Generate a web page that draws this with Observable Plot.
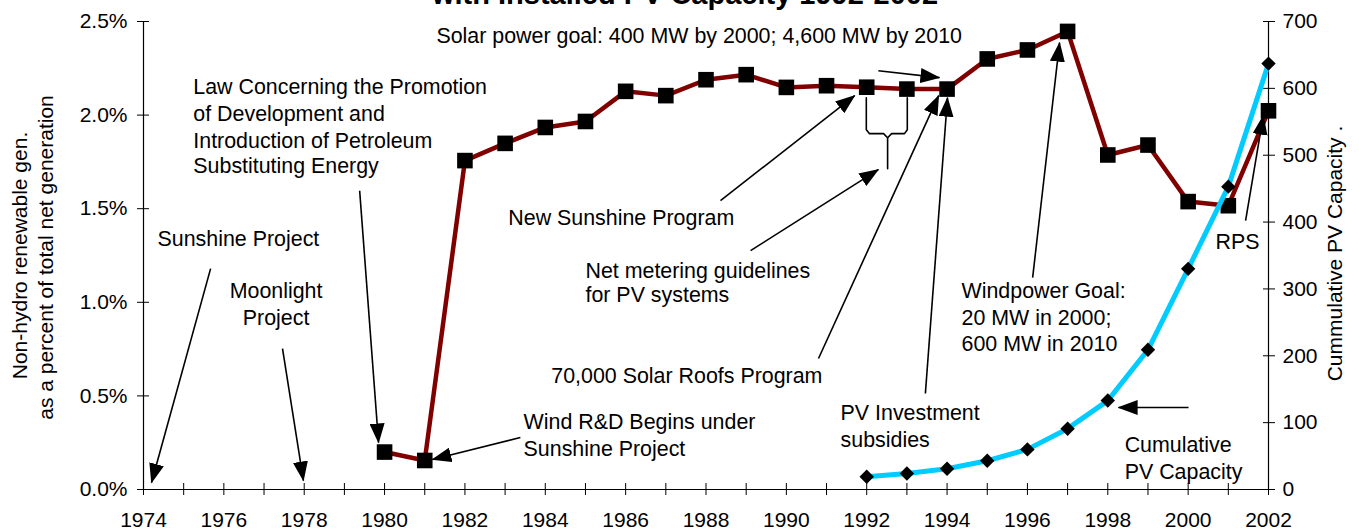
<!DOCTYPE html>
<html>
<head>
<meta charset="utf-8">
<script src="https://cdn.jsdelivr.net/npm/d3@7"></script>
<script src="https://cdn.jsdelivr.net/npm/@observablehq/plot@0.6"></script>
<style>
  html, body { margin: 0; padding: 0; background: #fff; }
  #chart { width: 1359px; height: 532px; overflow: hidden; }
</style>
</head>
<body>
<div id="chart"></div>
<script>
// ---- data ----
const renewYears = [1980,1981,1982,1983,1984,1985,1986,1987,1988,1989,1990,1991,1992,1993,1994,1995,1996,1997,1998,1999,2000,2001,2002];
const renewPct   = [0.20,0.155,1.757,1.849,1.934,1.966,2.127,2.104,2.189,2.216,2.148,2.157,2.149,2.139,2.139,2.30,2.348,2.447,1.787,1.84,1.538,1.516,2.023];
const pvYears = [1992,1993,1994,1995,1996,1997,1998,1999,2000,2001,2002];
const pvMW    = [19,24,31,43,60,91,133,209,330,453,637];

const xTicks = [1974,1975,1976,1977,1978,1979,1980,1981,1982,1983,1984,1985,1986,1987,1988,1989,1990,1991,1992,1993,1994,1995,1996,1997,1998,1999,2000,2001,2002];
const leftTicks = [0,0.5,1.0,1.5,2.0,2.5];
const rightTicks = [0,100,200,300,400,500,600,700];
const pvMax = 700, pctMax = 2.5;

const titleText = "with Installed PV Capacity 1992-2002";
const leftTitle1 = "Non-hydro renewable gen.";
const leftTitle2 = "as a percent of total net generation";
const rightTitle = "Cummulative PV Capacity .";

// annotation text lines (year, percent)
const noteText = ["Solar power goal: 400 MW by 2000; 4,600 MW by 2010",
  "Law Concerning the Promotion","of Development and","Introduction of Petroleum","Substituting Energy",
  "Sunshine Project","Wind R&D Begins under","Sunshine Project","New Sunshine Program",
  "Net metering guidelines","for PV systems","70,000 Solar Roofs Program","PV Investment","subsidies",
  "Windpower Goal:","20 MW in 2000;","600 MW in 2010","RPS","Cumulative","PV Capacity"];
const noteX = [1981.29,1975.24,1975.24,1975.24,1975.24,1974.35,1983.46,1983.46,1983.08,1985.0,1985.0,1984.15,1991.35,1991.35,1994.36,1994.36,1994.36,2000.68,1998.42,1998.42];
const noteY = [2.424,2.152,2.007,1.863,1.725,1.335,0.358,0.214,1.452,1.169,1.036,0.603,0.406,0.262,1.062,0.918,0.774,1.319,0.235,0.091];
const centerText = ["Moonlight","Project"];
const centerX = [1977.3,1977.3];
const centerY = [1.062,0.913];

// arrows: from (x1,y1) to tip (x2,y2)
const arrX1 = [1992.29,1979.38,1975.67,1977.46,1983.38,1988.36,1989.11,1990.80,1993.46,1996.13,2001.43,2000.01];
const arrY1 = [2.237,1.596,1.180,0.753,0.278,1.543,1.276,0.700,0.513,1.132,1.436,0.438];
const arrX2 = [1993.81,1979.85,1974.20,1977.98,1981.19,1991.70,1992.29,1993.79,1994.01,1996.80,2001.87,1998.27];
const arrY2 = [2.200,0.251,0.037,0.048,0.160,2.104,1.709,2.104,2.093,2.387,1.997,0.438];

// brace under 1992-1993
const braceX = [1991.99,1991.99,1992.07,1992.42,1992.52,1992.52, 1993.01,1993.01,1992.94,1992.62,1992.52];
const braceY = [2.093,1.922,1.901,1.901,1.879,1.714, 2.093,1.922,1.901,1.901,1.879];
const braceZ = ["a","a","a","a","a","a","b","b","b","b","b"];

// ---- tables ----
const renew = renewYears.map((year,i)=>({year, pct: renewPct[i]}));
const pv = pvYears.map((year,i)=>({year, mw: pvMW[i]}));
const notes = noteText.map((t,i)=>({t, x: noteX[i], y: noteY[i]}));
const cnotes = centerText.map((t,i)=>({t, x: centerX[i], y: centerY[i]}));
const arrows = arrX1.map((x1,i)=>({x1, y1: arrY1[i], x2: arrX2[i], y2: arrY2[i]}));
const brace = braceX.map((x,i)=>({x, y: braceY[i], z: braceZ[i]}));
const toPct = mw => mw * pctMax / pvMax;

const annFont = 21.4;
const tickFont = 21;
const svg = Plot.plot({
  width: 1359, height: 532,
  marginLeft: 143, marginRight: 91, marginTop: 21, marginBottom: 43,
  style: {fontFamily: "'Liberation Sans', Arial, sans-serif", fontSize: "21px", background: "#fff", color: "#000", overflow: "visible"},
  x: {domain: [1974, 2002]},
  y: {domain: [0, 2.5]},
  marks: [
    // axes
    Plot.axisY({anchor: "left", ticks: leftTicks, tickFormat: d => d.toFixed(1) + "%", tickSize: 6, tickPadding: 10, label: null, fontSize: tickFont}),
    Plot.axisY({anchor: "left", ticks: leftTicks, tickFormat: () => "", tickSize: -6, label: null}),
    Plot.axisY({anchor: "right", ticks: rightTicks.map(toPct), tickFormat: d => String(Math.round(d * pvMax / pctMax)), tickSize: 6, tickPadding: 8, label: null, fontSize: tickFont}),
    Plot.axisY({anchor: "right", ticks: rightTicks.map(toPct), tickFormat: () => "", tickSize: -6, label: null}),
    Plot.axisX({ticks: xTicks, tickFormat: d => d % 2 === 0 ? String(d) : "", tickSize: 6, tickPadding: 17, label: null, fontSize: tickFont}),
    Plot.axisX({ticks: xTicks, tickFormat: () => "", tickSize: -6, label: null}),
    Plot.ruleX([1974, 2002], {stroke: "#000", strokeWidth: 1.2}),
    Plot.ruleY([0], {stroke: "#000", strokeWidth: 1.2}),
    // axis titles
    Plot.text([leftTitle1], {frameAnchor: "left", textAnchor: "middle", dx: -123, dy: 0, rotate: -90, fontSize: 21}),
    Plot.text([leftTitle2], {frameAnchor: "left", textAnchor: "middle", dx: -97, dy: 2, rotate: -90, fontSize: 21}),
    Plot.text([rightTitle], {frameAnchor: "right", textAnchor: "middle", dx: 67, dy: -2, rotate: -90, fontSize: 21}),
    Plot.text([titleText], {frameAnchor: "top", dx: -21, dy: -18, lineAnchor: "bottom", fontWeight: "bold", fontSize: 29}),
    // data
    Plot.line(renew, {x: "year", y: "pct", stroke: "#800000", strokeWidth: 4.5}),
    Plot.dot(renew, {x: "year", y: "pct", symbol: "square", r: 8.8, fill: "#000", stroke: "none"}),
    Plot.line(pv, {x: "year", y: d => toPct(d.mw), stroke: "#00CCFF", strokeWidth: 5}),
    Plot.dot(pv, {x: "year", y: d => toPct(d.mw), symbol: "diamond2", r: 6.5, fill: "#000", stroke: "none"}),
    // annotations
    Plot.line(brace, {x: "x", y: "y", z: "z", stroke: "#000", strokeWidth: 1.6}),
    Plot.link(arrows, {x1: "x1", y1: "y1", x2: "x2", y2: "y2", stroke: "#000", strokeWidth: 1.6}),
    Plot.text(notes, {x: "x", y: "y", text: "t", textAnchor: "start", fontSize: annFont, fill: "#000"}),
    Plot.text(cnotes, {x: "x", y: "y", text: "t", textAnchor: "middle", fontSize: annFont, fill: "#000"})
  ]
});

// filled arrowheads
const s = d3.select(svg);
const defs = s.insert("defs", ":first-child");
defs.append("marker")
  .attr("id", "ahead")
  .attr("viewBox", "0 0 20 15")
  .attr("refX", 19).attr("refY", 7.5)
  .attr("markerWidth", 20).attr("markerHeight", 15)
  .attr("markerUnits", "userSpaceOnUse")
  .attr("orient", "auto")
  .append("path").attr("d", "M0,0 L20,7.5 L0,15 Z").attr("fill", "#000");
s.selectAll('g[aria-label="link"] path').attr("marker-end", "url(#ahead)");

document.getElementById("chart").appendChild(svg);
</script>
</body>
</html>
